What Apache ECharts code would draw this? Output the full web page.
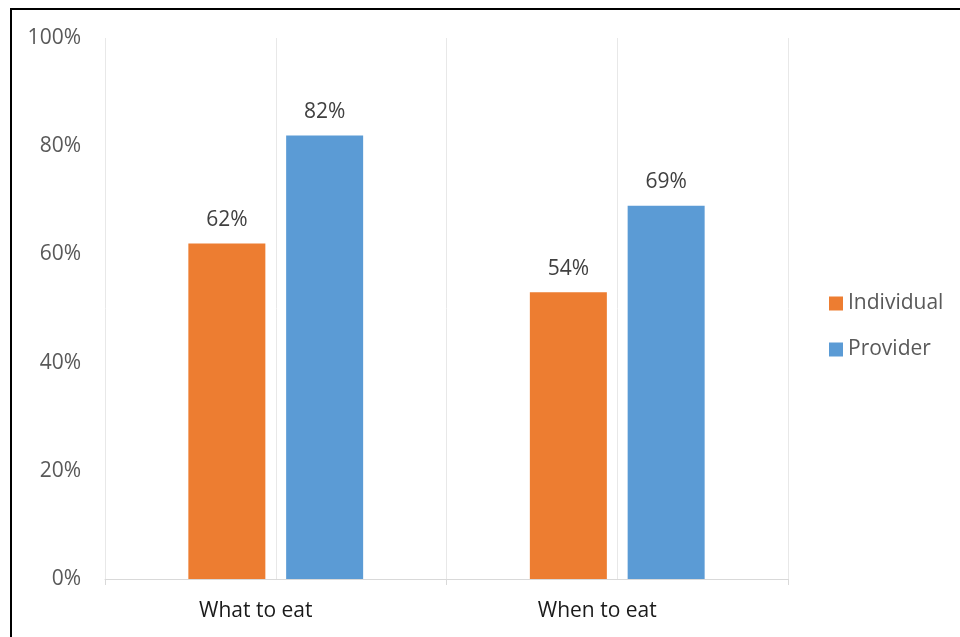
<!DOCTYPE html>
<html>
<head>
<meta charset="utf-8">
<script src="https://cdn.jsdelivr.net/npm/echarts@6/dist/echarts.min.js"></script>
<style>
html,body{margin:0;padding:0;background:#fff;}
#c{width:960px;height:637px;}
</style>
</head>
<body>
<div id="c"></div>
<script>
var categories = ['What to eat', 'When to eat'];
var individual = [62, 53];
var provider = [82, 69];
var individualLabels = ['62%', '54%'];
var providerLabels = ['82%', '69%'];
var yTicks = [0, 20, 40, 60, 80, 100];

var chart = echarts.init(document.getElementById('c'));
var font = '"Open Sans", "Noto Sans", sans-serif';
chart.setOption({
  animation: false,
  backgroundColor: '#fff',
  graphic: [{
    type: 'rect',
    shape: {x: 11, y: 9, width: 970, height: 650},
    style: {fill: 'none', stroke: '#000', lineWidth: 2},
    silent: true
  }],
  grid: {left: 105, right: 172, top: 38, bottom: 58},
  legend: {
    orient: 'vertical',
    left: 824,
    top: 288,
    itemWidth: 14,
    itemHeight: 14,
    itemGap: 25,
    icon: 'rect',
    textStyle: {fontFamily: font, fontSize: 21, color: '#595959', lineHeight: 20},
    data: ['Individual', 'Provider']
  },
  xAxis: [{
    type: 'category',
    data: categories,
    axisLine: {lineStyle: {color: '#d9d9d9', width: 1}},
    axisTick: {show: true, length: 6, lineStyle: {color: '#d9d9d9'}},
    axisLabel: {fontFamily: font, fontSize: 21, color: '#1a1a1a', margin: 22, padding: [0, 40, 0, 0]},
    splitLine: {show: false}
  }, {
    type: 'value',
    min: 0, max: 4, interval: 1,
    position: 'bottom',
    axisLine: {show: false},
    axisTick: {show: false},
    axisLabel: {show: false},
    splitLine: {show: true, lineStyle: {color: '#e8e8e8', width: 1}}
  }],
  yAxis: {
    type: 'value',
    min: yTicks[0], max: yTicks[yTicks.length - 1], interval: 20,
    axisLine: {show: false},
    axisTick: {show: false},
    splitLine: {show: false},
    axisLabel: {fontFamily: font, fontSize: 21, color: '#595959', margin: 24, formatter: '{value}%'}
  },
  series: [{
    name: 'Individual',
    type: 'bar',
    xAxisIndex: 0,
    data: individual,
    barWidth: 77,
    barGap: '27%',
    itemStyle: {color: '#ED7D31'},
    label: {show: true, position: 'top', distance: 13, fontFamily: font, fontSize: 21, color: '#404040',
      formatter: function (p) { return individualLabels[p.dataIndex]; }}
  }, {
    name: 'Provider',
    type: 'bar',
    xAxisIndex: 0,
    data: provider,
    barWidth: 77,
    barGap: '27%',
    itemStyle: {color: '#5B9BD5'},
    label: {show: true, position: 'top', distance: 13, fontFamily: font, fontSize: 21, color: '#404040',
      formatter: function (p) { return providerLabels[p.dataIndex]; }}
  }]
});
</script>
</body>
</html>
